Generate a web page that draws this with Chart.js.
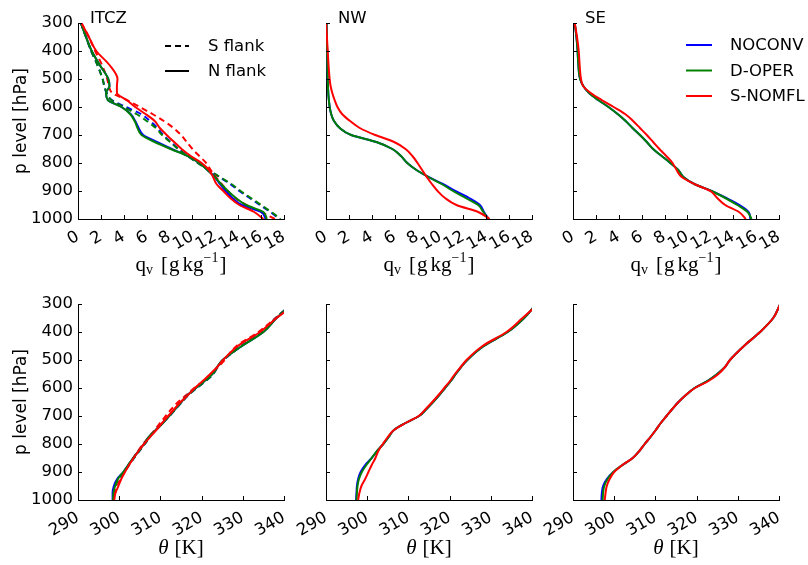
<!DOCTYPE html>
<html>
<head>
<meta charset="utf-8">
<script src="https://cdn.jsdelivr.net/npm/chart.js@4.4.1/dist/chart.umd.min.js"></script>
<style>
  html, body { margin: 0; padding: 0; background: #ffffff; }
  #fig { position: relative; width: 808px; height: 565px; overflow: hidden; background: #ffffff; }
  #fig canvas { position: absolute; }
</style>
</head>
<body>
<div id="fig"></div>
<script>
// Pressure levels (hPa) shared by every profile
const LEVELS = [300, 350, 400, 450, 500, 525, 550, 575, 600, 625, 650, 675, 700, 725, 750, 775, 800, 825, 850, 875, 900, 925, 950, 975, 1000];

// Specific humidity q_v [g/kg] -- ITCZ, south flank (dashed)
const QV_ITCZ_S_NOCONV = [0.25, 0.7, 1.15, 1.7, 2.15, 2.3, 2.5, 2.95, 4.2, 5.5, 6.3, 6.95, 7.45, 8.1, 8.8, 9.6, 10.5, 11.4, 12.35, 13.3, 14.1, 15.0, 15.9, 16.8, 17.6];
const QV_ITCZ_S_DOPER  = [0.25, 0.7, 1.15, 1.7, 2.15, 2.3, 2.5, 2.9, 4.0, 5.1, 6.0, 6.8, 7.35, 8.05, 8.75, 9.55, 10.45, 11.4, 12.4, 13.4, 14.2, 15.1, 16.0, 16.9, 17.7];
const QV_ITCZ_S_SNOMFL = [0.3, 0.95, 1.5, 2.1, 2.55, 2.7, 3.0, 4.25, 5.4, 6.5, 7.5, 8.35, 9.0, 9.5, 10.0, 10.6, 11.2, 11.6, 12.05, 12.55, 13.1, 13.75, 14.7, 16.0, 17.2];
// ITCZ, north flank (solid)
const QV_ITCZ_N_NOCONV = [0.25, 0.7, 1.2, 1.9, 2.65, 2.75, 2.45, 2.6, 3.8, 4.6, 5.0, 5.3, 5.7, 6.9, 8.2, 9.6, 10.6, 11.3, 11.95, 12.4, 12.9, 13.5, 14.3, 16.0, 16.4];
const QV_ITCZ_N_DOPER  = [0.25, 0.7, 1.2, 1.9, 2.65, 2.75, 2.45, 2.6, 3.8, 4.55, 4.95, 5.2, 5.55, 6.7, 8.1, 9.6, 10.6, 11.3, 11.95, 12.5, 13.1, 13.8, 14.7, 16.2, 16.5];
const QV_ITCZ_N_SNOMFL = [0.3, 0.95, 1.6, 2.75, 3.45, 3.4, 3.4, 4.25, 5.0, 5.9, 6.7, 7.15, 7.75, 8.4, 9.05, 9.85, 10.8, 11.45, 11.8, 12.1, 12.7, 13.3, 14.1, 15.4, 16.2];
// NW region
const QV_NW_NOCONV = [0.05, 0.07, 0.1, 0.12, 0.15, 0.17, 0.2, 0.25, 0.32, 0.45, 0.7, 1.2, 2.2, 4.4, 5.8, 6.55, 7.1, 7.9, 8.95, 10.2, 11.3, 12.5, 13.45, 13.8, 14.2];
const QV_NW_DOPER  = [0.05, 0.07, 0.1, 0.12, 0.15, 0.17, 0.2, 0.25, 0.32, 0.45, 0.7, 1.2, 2.2, 4.4, 5.8, 6.55, 7.1, 7.9, 8.95, 10.1, 11.1, 12.2, 13.3, 13.75, 14.2];
const QV_NW_SNOMFL = [0.0, 0.08, 0.15, 0.22, 0.32, 0.4, 0.55, 0.75, 1.0, 1.4, 2.1, 2.95, 4.3, 5.95, 6.95, 7.55, 8.0, 8.4, 8.8, 9.25, 9.75, 10.4, 11.4, 13.3, 14.3];
// SE region
const QV_SE_NOCONV = [0.15, 0.3, 0.4, 0.47, 0.62, 0.9, 1.4, 2.2, 3.1, 3.9, 4.6, 5.2, 5.85, 6.45, 7.0, 7.75, 8.5, 9.2, 9.65, 10.6, 12.1, 13.4, 14.55, 15.35, 15.5];
const QV_SE_DOPER  = [0.15, 0.3, 0.4, 0.47, 0.62, 0.9, 1.4, 2.2, 3.1, 3.9, 4.6, 5.2, 5.85, 6.45, 7.0, 7.75, 8.5, 9.2, 9.65, 10.6, 12.1, 13.3, 14.35, 15.25, 15.6];
const QV_SE_SNOMFL = [0.15, 0.35, 0.5, 0.58, 0.7, 0.88, 1.55, 2.5, 3.55, 4.55, 5.25, 5.85, 6.45, 7.0, 7.55, 8.15, 8.7, 9.05, 9.5, 10.6, 12.0, 12.6, 13.3, 14.5, 15.1];

// Potential temperature theta [K] -- ITCZ, south flank (dashed)
const TH_ITCZ_S_NOCONV = [342.0, 338.0, 334.8, 329.6, 325.3, 323.9, 322.8, 321.0, 318.8, 316.8, 315.2, 313.7, 312.2, 310.5, 308.9, 307.4, 306.2, 304.9, 303.6, 302.4, 301.2, 299.9, 299.0, 298.7, 298.6];
const TH_ITCZ_S_DOPER  = [342.0, 338.0, 334.8, 329.6, 325.3, 323.9, 322.8, 321.0, 318.8, 316.8, 315.2, 313.7, 312.2, 310.5, 308.9, 307.4, 306.2, 304.9, 303.6, 302.4, 301.2, 299.9, 299.1, 298.8, 298.7];
const TH_ITCZ_S_SNOMFL = [342.5, 338.0, 333.8, 328.5, 325.6, 324.0, 322.3, 320.5, 318.2, 316.3, 314.3, 312.7, 311.3, 309.9, 308.6, 307.2, 305.8, 304.6, 303.4, 302.3, 301.2, 300.3, 299.6, 299.0, 298.7];
// ITCZ, north flank (solid)
const TH_ITCZ_N_NOCONV = [342.2, 338.2, 335.0, 329.8, 325.1, 323.8, 322.6, 320.7, 318.6, 316.6, 315.1, 313.6, 312.1, 310.6, 308.9, 307.2, 306.0, 304.7, 303.4, 302.2, 301.0, 299.5, 298.7, 298.4, 298.4];
const TH_ITCZ_N_DOPER  = [342.2, 338.2, 335.0, 329.8, 325.1, 323.8, 322.6, 320.7, 318.6, 316.6, 315.1, 313.6, 312.1, 310.6, 308.9, 307.2, 306.0, 304.7, 303.4, 302.2, 301.0, 299.7, 299.0, 298.6, 298.5];
const TH_ITCZ_N_SNOMFL = [342.8, 338.2, 334.2, 328.8, 325.2, 323.8, 322.1, 320.3, 318.4, 316.7, 314.9, 313.4, 311.9, 310.4, 309.0, 307.5, 306.0, 304.7, 303.5, 302.4, 301.4, 300.5, 299.8, 299.1, 298.8];
// NW region
const TH_NW_NOCONV = [341.0, 338.1, 334.1, 328.3, 324.3, 322.8, 321.5, 320.3, 318.9, 317.5, 316.0, 314.4, 312.6, 309.3, 306.5, 305.2, 303.9, 302.4, 301.1, 299.5, 298.4, 297.8, 297.5, 297.4, 297.3];
const TH_NW_DOPER  = [341.0, 338.1, 334.1, 328.3, 324.3, 322.8, 321.5, 320.3, 318.9, 317.5, 316.0, 314.4, 312.6, 309.3, 306.5, 305.2, 303.9, 302.4, 301.1, 299.8, 298.7, 298.0, 297.65, 297.5, 297.4];
const TH_NW_SNOMFL = [341.5, 337.7, 333.8, 328.0, 324.1, 322.7, 321.3, 320.1, 318.7, 317.3, 315.8, 314.2, 312.5, 309.3, 306.5, 305.0, 303.8, 302.7, 302.0, 301.1, 300.3, 299.5, 298.6, 298.1, 297.8];
// SE region
const TH_SE_NOCONV = [340.3, 338.6, 335.4, 331.5, 328.1, 326.9, 325.0, 322.6, 319.5, 317.4, 315.6, 314.1, 312.7, 311.3, 310.1, 308.8, 307.4, 306.1, 304.5, 302.0, 299.8, 298.2, 297.3, 297.0, 296.9];
const TH_SE_DOPER  = [340.3, 338.6, 335.4, 331.5, 328.1, 326.9, 325.0, 322.6, 319.5, 317.4, 315.6, 314.1, 312.7, 311.3, 310.1, 308.8, 307.4, 306.1, 304.5, 302.0, 299.8, 298.4, 297.6, 297.3, 297.2];
const TH_SE_SNOMFL = [340.3, 338.6, 335.4, 331.5, 328.1, 326.9, 325.3, 322.9, 319.6, 317.4, 315.6, 314.1, 312.7, 311.3, 310.1, 308.8, 307.4, 306.1, 304.5, 302.0, 300.0, 298.9, 298.2, 297.9, 297.7];

// Tick values
const P_TICKS  = [300, 400, 500, 600, 700, 800, 900, 1000];
const QV_TICKS = [0, 2, 4, 6, 8, 10, 12, 14, 16, 18];
const TH_TICKS = [290, 300, 310, 320, 330, 340];

// Series names, panel titles, legend entries
const RUNS = ['NOCONV', 'D-OPER', 'S-NOMFL'];
const REGIONS = ['ITCZ', 'NW', 'SE'];
const FLANKS = ['S flank', 'N flank'];

// ---- styling ----
const RUN_COLORS = { 'NOCONV': '#0000ff', 'D-OPER': '#008000', 'S-NOMFL': '#ff0000' };
const DASH = [6, 4];
const SANS = '"DejaVu Sans", "Bitstream Vera Sans", sans-serif';
const SERIF = '"Liberation Serif", "DejaVu Serif", serif';
const TXT = 16.5;

// ---- layout (page pixels) ----
const PLOT_W = 206, PLOT_H = 196;
const AXIS_W = 78, PAD_TOP = 23, PAD_RIGHT = 32, XAXIS_H = 62;
const COL_LEFT = [78, 326, 573];
const ROW_TOP = [23, 304];

function series(values, run, dashed) {
  return { values, run, dashed: !!dashed };
}

const PANELS = [
  { row: 0, col: 0, title: REGIONS[0], kind: 'qv', legend: 'flank',
    lines: [series(QV_ITCZ_S_NOCONV, 'NOCONV', 1), series(QV_ITCZ_S_DOPER, 'D-OPER', 1), series(QV_ITCZ_S_SNOMFL, 'S-NOMFL', 1),
            series(QV_ITCZ_N_NOCONV, 'NOCONV'), series(QV_ITCZ_N_DOPER, 'D-OPER'), series(QV_ITCZ_N_SNOMFL, 'S-NOMFL')] },
  { row: 0, col: 1, title: REGIONS[1], kind: 'qv',
    lines: [series(QV_NW_NOCONV, 'NOCONV'), series(QV_NW_DOPER, 'D-OPER'), series(QV_NW_SNOMFL, 'S-NOMFL')] },
  { row: 0, col: 2, title: REGIONS[2], kind: 'qv', legend: 'runs',
    lines: [series(QV_SE_NOCONV, 'NOCONV'), series(QV_SE_DOPER, 'D-OPER'), series(QV_SE_SNOMFL, 'S-NOMFL')] },
  { row: 1, col: 0, kind: 'th',
    lines: [series(TH_ITCZ_S_NOCONV, 'NOCONV', 1), series(TH_ITCZ_S_DOPER, 'D-OPER', 1), series(TH_ITCZ_S_SNOMFL, 'S-NOMFL', 1),
            series(TH_ITCZ_N_NOCONV, 'NOCONV'), series(TH_ITCZ_N_DOPER, 'D-OPER'), series(TH_ITCZ_N_SNOMFL, 'S-NOMFL')] },
  { row: 1, col: 1, kind: 'th',
    lines: [series(TH_NW_NOCONV, 'NOCONV'), series(TH_NW_DOPER, 'D-OPER'), series(TH_NW_SNOMFL, 'S-NOMFL')] },
  { row: 1, col: 2, kind: 'th',
    lines: [series(TH_SE_NOCONV, 'NOCONV'), series(TH_SE_DOPER, 'D-OPER'), series(TH_SE_SNOMFL, 'S-NOMFL')] }
];

// Draws a row of text runs (for sub/superscripts) centred on cx
function drawRuns(ctx, runs, cx, baseY) {
  let total = 0;
  runs.forEach(r => { ctx.font = r.font; r.w = ctx.measureText(r.t).width + (r.gap || 0); total += r.w; });
  let x = cx - total / 2;
  ctx.textAlign = 'left';
  ctx.textBaseline = 'alphabetic';
  runs.forEach(r => { ctx.font = r.font; ctx.fillText(r.t, x, baseY + (r.dy || 0)); x += r.w; });
}

function decorPlugin(panel) {
  return {
    id: 'panelDecor',
    afterDraw(chart) {
      const ctx = chart.ctx, a = chart.chartArea;
      const xs = chart.scales.x, ys = chart.scales.y;
      ctx.save();
      ctx.fillStyle = '#000';
      ctx.strokeStyle = '#000';
      ctx.lineWidth = 1;

      // inward tick marks on left and bottom spines
      ctx.beginPath();
      xs.ticks.forEach(t => {
        const px = Math.round(xs.getPixelForValue(t.value)) + 0.5;
        ctx.moveTo(px, a.bottom); ctx.lineTo(px, a.bottom - 4);
      });
      ys.ticks.forEach(t => {
        const py = Math.round(ys.getPixelForValue(t.value)) + 0.5;
        ctx.moveTo(a.left, py); ctx.lineTo(a.left + 4, py);
      });
      ctx.stroke();

      // panel title
      if (panel.title) {
        ctx.font = TXT + 'px ' + SANS;
        ctx.textAlign = 'left';
        ctx.textBaseline = 'alphabetic';
        ctx.fillText(panel.title, a.left + 12, a.top);
      }

      // x-axis title
      const cx = (a.left + a.right) / 2;
      const big = '21px ' + SERIF, small = '14px ' + SERIF;
      if (panel.kind === 'qv') {
        drawRuns(ctx, [
          { t: 'q', font: big }, { t: 'v', font: small, dy: 3, gap: 8 },
          { t: '[', font: big, gap: 1 }, { t: 'g', font: big, gap: 3 }, { t: 'kg', font: big },
          { t: '\u22121', font: small, dy: -9, gap: 1 }, { t: ']', font: big }
        ], cx, a.bottom + 52);
      } else {
        drawRuns(ctx, [
          { t: '\u03b8', font: 'italic 21px ' + SERIF, gap: 6 },
          { t: '[K]', font: big }
        ], cx, a.bottom + 54);
      }

      // y-axis title on the first column
      if (panel.col === 0) {
        ctx.save();
        ctx.translate(25.5, (a.top + a.bottom) / 2);
        ctx.rotate(-Math.PI / 2);
        ctx.font = '17px ' + SANS;
        ctx.textAlign = 'center';
        ctx.textBaseline = 'alphabetic';
        ctx.fillText('p level [hPa]', 0, 0);
        ctx.restore();
      }

      // legends
      ctx.lineWidth = 2;
      ctx.font = TXT + 'px ' + SANS;
      ctx.textAlign = 'left';
      ctx.textBaseline = 'middle';
      if (panel.legend === 'flank') {
        FLANKS.forEach((name, i) => {
          const y = a.top + 23 + i * 25;
          ctx.setLineDash(i === 0 ? DASH : []);
          ctx.beginPath();
          ctx.moveTo(a.left + 87, y); ctx.lineTo(a.left + 111, y);
          ctx.stroke();
          ctx.fillText(name, a.left + 130, y + 1);
        });
        ctx.setLineDash([]);
      } else if (panel.legend === 'runs') {
        RUNS.forEach((name, i) => {
          const y = a.top + 22 + i * 25.5;
          ctx.strokeStyle = RUN_COLORS[name];
          ctx.beginPath();
          ctx.moveTo(a.left + 113, y); ctx.lineTo(a.left + 139, y);
          ctx.stroke();
          ctx.fillText(name, a.left + 157, y + 1);
        });
      }
      ctx.restore();
    }
  };
}

const fig = document.getElementById('fig');

PANELS.forEach(panel => {
  const isQ = panel.kind === 'qv';
  const xTicks = isQ ? QV_TICKS : TH_TICKS;
  const canvas = document.createElement('canvas');
  const W = AXIS_W + PLOT_W + PAD_RIGHT, H = PAD_TOP + PLOT_H + XAXIS_H;
  canvas.width = W; canvas.height = H;
  canvas.style.left = (COL_LEFT[panel.col] - AXIS_W) + 'px';
  canvas.style.top = (ROW_TOP[panel.row] - PAD_TOP) + 'px';
  canvas.style.width = W + 'px'; canvas.style.height = H + 'px';
  fig.appendChild(canvas);

  const n = panel.lines.length;
  new Chart(canvas, {
    type: 'line',
    data: {
      datasets: panel.lines.map((s, i) => ({
        label: s.run,
        order: n - i,   // later series are painted on top
        data: LEVELS.map((p, k) => ({ x: s.values[k], y: p })),
        borderColor: RUN_COLORS[s.run],
        borderWidth: 2,
        borderDash: s.dashed ? DASH : [],
        pointRadius: 0,
        fill: false,
        cubicInterpolationMode: 'monotone'
      }))
    },
    options: {
      indexAxis: 'y',
      responsive: false,
      animation: false,
      devicePixelRatio: 1,
      layout: { padding: { top: PAD_TOP, right: PAD_RIGHT, left: 0, bottom: 0 } },
      plugins: { legend: { display: false }, tooltip: { enabled: false }, title: { display: false } },
      scales: {
        x: {
          type: 'linear',
          min: xTicks[0], max: xTicks[xTicks.length - 1],
          afterBuildTicks: s => { s.ticks = xTicks.map(v => ({ value: v })); },
          afterFit: s => { s.height = XAXIS_H; },
          grid: { display: false, drawTicks: false },
          border: { display: true, color: '#000', width: 1 },
          ticks: { minRotation: 30, maxRotation: 30, padding: 8, color: '#000',
                   font: { family: SANS, size: TXT }, autoSkip: false,
                   callback: v => String(v) }
        },
        y: {
          type: 'linear',
          reverse: true,
          min: P_TICKS[0], max: P_TICKS[P_TICKS.length - 1],
          afterBuildTicks: s => { s.ticks = P_TICKS.map(v => ({ value: v })); },
          afterFit: s => { s.width = AXIS_W; },
          grid: { display: false, drawTicks: false },
          border: { display: true, color: '#000', width: 1 },
          ticks: { display: panel.col === 0, padding: 5, color: '#000',
                   font: { family: SANS, size: TXT }, callback: v => String(v) }
        }
      }
    },
    plugins: [decorPlugin(panel)]
  });
});
</script>
</body>
</html>
